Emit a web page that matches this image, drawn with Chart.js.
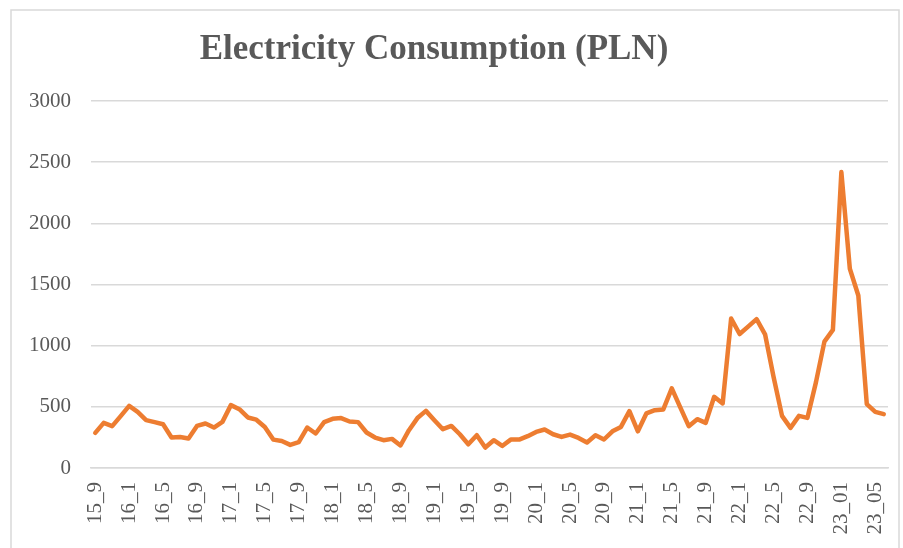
<!DOCTYPE html>
<html lang="en">
<head>
    <meta charset="UTF-8">
    <title>Electricity Consumption (PLN)</title>
    <script src="https://cdn.jsdelivr.net/npm/chart.js"></script>
    <style>
        body {
            margin: 0;
            background: #ffffff;
        }
        canvas {
            display: block;
        }
    </style>
</head>
<body>
    <canvas id="elecChart" width="903" height="548"></canvas>

    <script>
        const chartTitle = 'Electricity Consumption (PLN)';

        // one category per month, Sep 2015 - Jun 2023
        const months = [
            '15_9', '15_10', '15_11', '15_12',
            '16_1', '16_2', '16_3', '16_4', '16_5', '16_6', '16_7', '16_8', '16_9', '16_10', '16_11', '16_12',
            '17_1', '17_2', '17_3', '17_4', '17_5', '17_6', '17_7', '17_8', '17_9', '17_10', '17_11', '17_12',
            '18_1', '18_2', '18_3', '18_4', '18_5', '18_6', '18_7', '18_8', '18_9', '18_10', '18_11', '18_12',
            '19_1', '19_2', '19_3', '19_4', '19_5', '19_6', '19_7', '19_8', '19_9', '19_10', '19_11', '19_12',
            '20_1', '20_2', '20_3', '20_4', '20_5', '20_6', '20_7', '20_8', '20_9', '20_10', '20_11', '20_12',
            '21_1', '21_2', '21_3', '21_4', '21_5', '21_6', '21_7', '21_8', '21_9', '21_10', '21_11', '21_12',
            '22_1', '22_2', '22_3', '22_4', '22_5', '22_6', '22_7', '22_8', '22_9', '22_10', '22_11', '22_12',
            '23_01', '23_02', '23_03', '23_04', '23_05', '23_06'
        ];

        const consumption = [
            287, 369, 342, 424,
            508, 459, 391, 375, 358, 249, 254, 241, 344, 364, 331, 377,
            514, 481, 413, 395, 335, 232, 221, 189, 211, 331, 282, 375,
            402, 408, 380, 375, 290, 249, 227, 238, 184, 309, 408, 467,
            391, 317, 344, 276, 194, 268, 167, 227, 180, 232, 232, 260,
            295, 315, 276, 254, 273, 246, 208, 268, 233, 300, 336, 465,
            300, 446, 473, 479, 651, 495, 342, 399, 369, 582, 528, 1222,
            1095, 1156, 1217, 1093, 746, 426, 328, 426, 410, 700, 1033, 1129,
            2419, 1629, 1410, 522, 459, 440
        ];

        const yTicks = [0, 500, 1000, 1500, 2000, 2500, 3000];
        const labelEvery = 4;

        const serif = '"Liberation Serif", "Times New Roman", serif';
        const textGrey = '#595959';
        const gridGrey = '#d9d9d9';

        // white background + thin frame like the office chart box
        const frame = {
            id: 'frame',
            beforeDraw(chart) {
                const ctx = chart.ctx;
                ctx.save();
                ctx.fillStyle = '#ffffff';
                ctx.fillRect(0, 0, chart.width, chart.height);
                ctx.strokeStyle = gridGrey;
                ctx.lineWidth = 1.5;
                ctx.strokeRect(11, 10, 888, 560);
                ctx.restore();
            },
            afterDraw(chart) {
                const ctx = chart.ctx;
                ctx.save();
                ctx.font = 'bold 35px ' + serif;
                ctx.fillStyle = textGrey;
                ctx.textAlign = 'center';
                ctx.textBaseline = 'middle';
                ctx.fillText(chartTitle, 434, 50);
                ctx.restore();
            }
        };

        new Chart(document.getElementById('elecChart').getContext('2d'), {
            type: 'line',
            data: {
                labels: months,
                datasets: [{
                    label: chartTitle,
                    data: consumption,
                    borderColor: '#ED7D31',
                    borderWidth: 4.5,
                    borderJoinStyle: 'round',
                    borderCapStyle: 'round',
                    pointRadius: 0,
                    tension: 0,
                    fill: false
                }]
            },
            options: {
                responsive: false,
                animation: false,
                layout: {
                    padding: { top: 101, left: 11, right: 15, bottom: 0 }
                },
                plugins: {
                    legend: { display: false },
                    title: { display: false },
                    tooltip: { enabled: false }
                },
                scales: {
                    x: {
                        offset: true,
                        grid: { display: false, drawTicks: false },
                        border: { color: gridGrey, width: 1.5 },
                        ticks: {
                            autoSkip: false,
                            maxRotation: 90,
                            minRotation: 90,
                            padding: 14,
                            color: textGrey,
                            font: { family: serif, size: 21 },
                            callback: function (val, i) {
                                return i % labelEvery === 0 ? this.getLabelForValue(val) : '';
                            }
                        },
                        afterFit(scale) {
                            scale.height = 80;
                            scale.paddingLeft = 0;
                            scale.paddingRight = 0;
                        }
                    },
                    y: {
                        min: 0,
                        max: 3000,
                        afterBuildTicks(scale) {
                            scale.ticks = yTicks.map(v => ({ value: v }));
                        },
                        grid: { color: gridGrey, lineWidth: 1.5, drawTicks: false },
                        border: { display: false },
                        ticks: {
                            padding: 20,
                            color: textGrey,
                            font: { family: serif, size: 21 },
                            callback: v => String(v)
                        },
                        afterFit(scale) { scale.width = 80; }
                    }
                }
            },
            plugins: [frame]
        });
    </script>
</body>
</html>
